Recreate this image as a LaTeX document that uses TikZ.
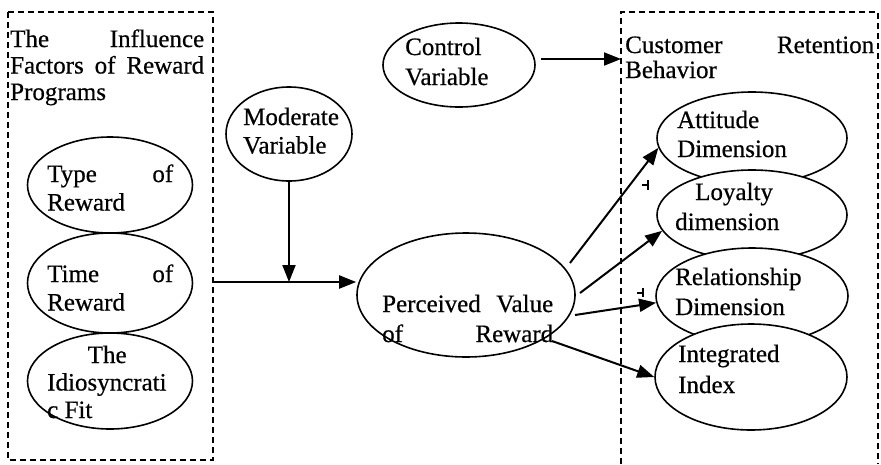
\documentclass[tikz,border=0pt]{standalone}
\usepackage{fontspec}
\setmainfont[FakeBold=0.5]{Liberation Serif}
\usetikzlibrary{shapes.geometric,arrows.meta}
% a line stretched to the full width of its parbox
\newcommand{\jline}[1]{\makebox[\linewidth][s]{#1}}

\begin{document}
\begin{tikzpicture}[x=1pt,y=-1pt,
  oval/.style={draw, ellipse, fill=white, line width=1.6pt, inner sep=0pt},
  lbl/.style={anchor=base west, inner sep=0pt, font=\fontsize{25}{28.5}\selectfont},
  frame/.style={dash pattern=on 6pt off 4pt, line width=1.5pt},
  arr/.style={line width=2pt, -{Triangle[length=17pt,width=13pt]}},
  tick/.style={line width=1.5pt}]
\useasboundingbox (0,0) rectangle (881,464);

% dashed group frames
\draw[frame] (8,12) rectangle (213,460);
\draw[frame] (621,464) -- (621,12) -- (878,12) -- (878,464);

% ellipses
\node[oval, minimum width=165pt, minimum height=96pt]  (type) at (110,185) {};
\node[oval, minimum width=165pt, minimum height=100pt] (time) at (110,283) {};
\node[oval, minimum width=165pt, minimum height=96pt]  (idio) at (110,381) {};
\node[oval, minimum width=126pt, minimum height=94pt]  (mod)  at (289,134) {};
\node[oval, minimum width=152pt, minimum height=84pt]  (ctl)  at (459,65) {};
\node[oval, minimum width=218pt, minimum height=124pt] (perc) at (466,295) {};
\node[oval, minimum width=190pt, minimum height=92pt]  (att)  at (752,138) {};
\node[oval, minimum width=190pt, minimum height=90pt]  (loy)  at (752,215) {};
\node[oval, minimum width=192pt, minimum height=96pt]  (rel)  at (752,296) {};
\node[oval, minimum width=192pt, minimum height=106pt] (intg) at (751,377) {};

% texts
\node[lbl] (tleft) at (10,47) {\parbox[t]{194pt}{\fontsize{25}{26.5}\selectfont
  \jline{The Influence}\\\jline{Factors of Reward}\\Programs}};
\node[lbl] (tright) at (625,53) {\parbox[t]{249pt}{\fontsize{25}{25}\selectfont
  \jline{Customer Retention}\\Behavior}};
\node[lbl] (ttype) at (47,182) {\parbox[t]{126pt}{\jline{Type of}\\Reward}};
\node[lbl] (ttime) at (47,282) {\parbox[t]{126pt}{\jline{Time of}\\Reward}};
\node[lbl] (tidio) at (47,363) {\parbox[t]{120pt}{\fontsize{25}{27.5}\selectfont
  \makebox[\linewidth]{The}\\Idiosyncrati\\c Fit}};
\node[lbl] (tmod) at (243,125) {\parbox[t]{120pt}{Moderate\\Variable}};
\node[lbl] (tctl) at (405,55) {\parbox[t]{120pt}{\fontsize{25}{30}\selectfont Control\\Variable}};
\node[lbl] (tperc) at (382,312) {\parbox[t]{171pt}{\fontsize{25}{30}\selectfont
  \jline{Perceived Value}\\\jline{of Reward}}};
\node[lbl] (tatt) at (677,128) {\parbox[t]{140pt}{\fontsize{25}{29}\selectfont Attitude\\Dimension}};
\node[lbl] (tloy) at (675,200) {\parbox[t]{140pt}{\fontsize{25}{30}\selectfont \hspace*{20pt}Loyalty\\dimension}};
\node[lbl] (trel) at (675,285) {\parbox[t]{140pt}{\fontsize{25}{30}\selectfont Relationship\\Dimension}};
\node[lbl] (tint) at (678,362) {\parbox[t]{140pt}{\fontsize{25}{31}\selectfont Integrated\\Index}};

% connectors
\coordinate (jn) at (213,282);
\draw[arr] (jn) -- (jn -| perc.west);
\draw[arr] (mod.south) -- (mod.south |- jn);
\coordinate (rb) at (621,59);
\draw[arr] ([xshift=5pt]ctl.east |- rb) -- (rb);
\coordinate (s1) at (570,263);
\coordinate (s2) at (580,293);
\coordinate (s3) at (575,315);
\coordinate (s4) at (552,341);
\draw[arr] (s1) -- (att.186);
\draw[arr] (s2) -- (loy.190);
\draw[arr] (s3) -- (rel.184);
\draw[arr] (s4) -- (intg.180);

% small stray marks
\draw[tick] (648,180) -- (648,190) (642,185) -- (648,185);
\draw[tick] (643,288) -- (643,297) (637,293) -- (643,293);
\end{tikzpicture}
\end{document}
